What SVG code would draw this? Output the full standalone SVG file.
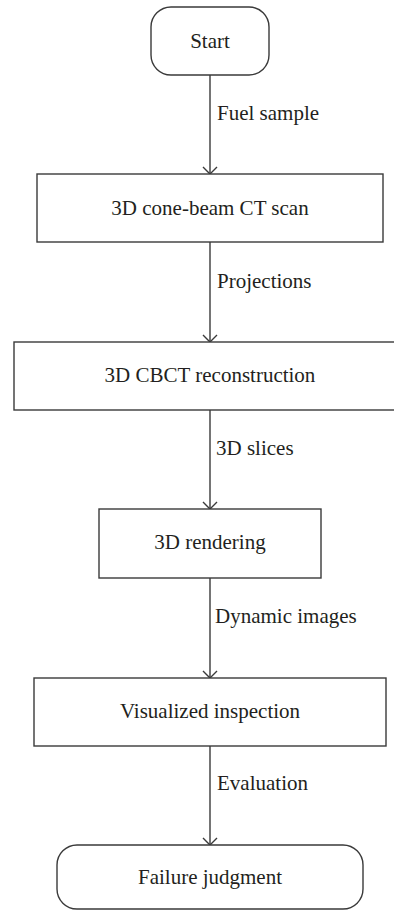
<svg xmlns="http://www.w3.org/2000/svg" width="394" height="913" viewBox="0 0 394 913">
<style>
.box{fill:#fff;stroke:#3a3a3a;stroke-width:1.4}
text{font-family:'Liberation Serif','Times New Roman','DejaVu Serif',serif;font-size:21px;fill:#231f20}
.c{text-anchor:middle}
.ln{stroke:#3a3a3a;stroke-width:1.4;fill:none}
</style>
<rect width="394" height="913" fill="#fff"/>
<g id="connectors">
<g id="e1"><line class="ln" x1="210" y1="75" x2="210" y2="174"/><polyline class="ln" points="203,167 210,174 217,167"/></g>
<g id="e2"><line class="ln" x1="210" y1="242" x2="210" y2="342"/><polyline class="ln" points="203,335 210,342 217,335"/></g>
<g id="e3"><line class="ln" x1="210" y1="410" x2="210" y2="509"/><polyline class="ln" points="203,502 210,509 217,502"/></g>
<g id="e4"><line class="ln" x1="210" y1="578" x2="210" y2="678"/><polyline class="ln" points="203,671 210,678 217,671"/></g>
<g id="e5"><line class="ln" x1="210" y1="746" x2="210" y2="845"/><polyline class="ln" points="203,838 210,845 217,838"/></g>
<text x="217" y="120">Fuel sample</text>
<text x="217" y="288">Projections</text>
<text x="216" y="455">3D slices</text>
<text x="215" y="623">Dynamic images</text>
<text x="217" y="790">Evaluation</text>
</g>
<g id="start"><rect class="box" x="151" y="7" width="118" height="68" rx="20"/><text class="c" x="210" y="48">Start</text></g>
<g id="scan"><rect class="box" x="37" y="174" width="346" height="68"/><text class="c" x="210" y="215">3D cone-beam CT scan</text></g>
<g id="recon"><rect class="box" x="14" y="342" width="392" height="68"/><text class="c" x="210" y="382">3D CBCT reconstruction</text></g>
<g id="render"><rect class="box" x="99" y="509" width="222" height="69"/><text class="c" x="210" y="549">3D rendering</text></g>
<g id="inspect"><rect class="box" x="34" y="678" width="352" height="68"/><text class="c" x="210" y="718">Visualized inspection</text></g>
<g id="judge"><rect class="box" x="57" y="845" width="306" height="64" rx="20"/><text class="c" x="210" y="884">Failure judgment</text></g>
</svg>
